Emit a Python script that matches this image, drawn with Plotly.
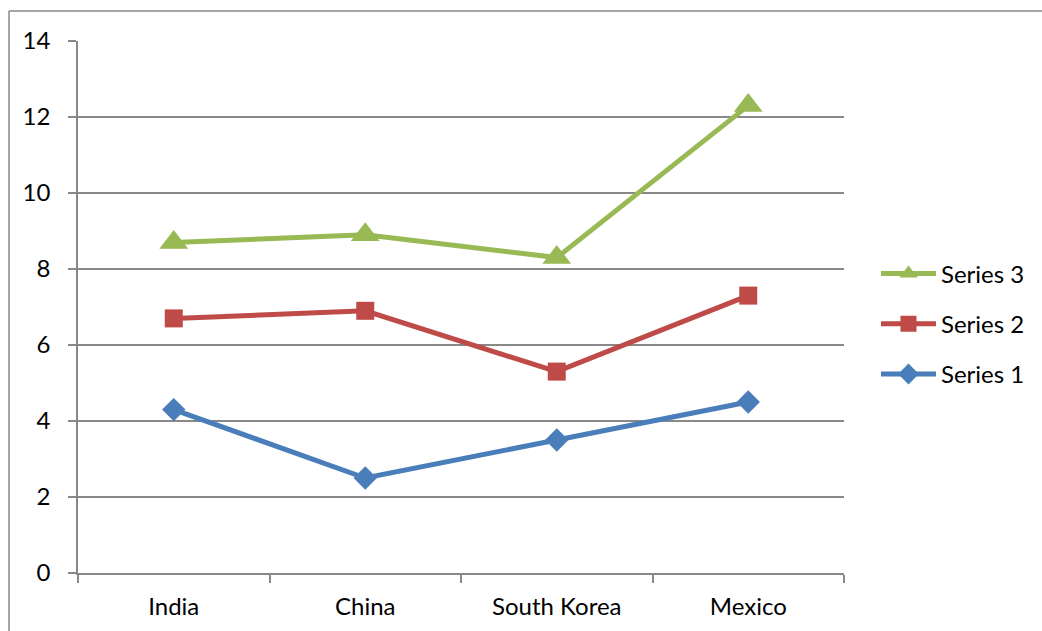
import plotly.graph_objects as go

categories = ["India", "China", "South Korea", "Mexico"]
series1 = [4.3, 2.5, 3.5, 4.5]
series2 = [2.4, 4.4, 1.8, 2.8]
series3 = [2.0, 2.0, 3.0, 5.0]
names = ["Series 1", "Series 2", "Series 3"]
colors = ["#4A7EBB", "#BE4B48", "#98B954"]
symbols = ["diamond", "square", "triangle-up"]
msizes = [18, 18, 25]

fig = go.Figure()
for i, vals in enumerate([series1, series2, series3]):
    fig.add_trace(go.Scatter(
        x=categories, y=vals, name=names[i], mode="lines+markers",
        stackgroup="s", fill="none", legendgroup=names[i], legendrank=3 - i,
        line=dict(color=colors[i], width=5),
        marker=dict(symbol=symbols[i], size=msizes[i], color=colors[i]),
    ))

L, R, T, B = 78, 198, 41, 58
W, H = 1042, 631
pw, ph = W - L - R, H - T - B
axcol = "#888888"
font = "Lato, 'Open Sans', sans-serif"

fig.update_layout(
    width=W, height=H,
    margin=dict(l=L, r=R, t=T, b=B, autoexpand=False),
    paper_bgcolor="white", plot_bgcolor="white",
    font=dict(family=font, size=24, color="#000000"),
    showlegend=True,
    legend=dict(
        x=1.0 + (876 - (L + pw)) / pw, y=0.5 + (573 - 324 - 266) / ph,
        xanchor="left", yanchor="middle",
        traceorder="grouped", tracegroupgap=16,
        itemwidth=55, font=dict(size=24),
        bgcolor="rgba(0,0,0,0)",
    ),
    xaxis=dict(
        type="category", range=[-0.5, 3.5], tickson="boundaries",
        ticks="outside", ticklen=8, tickcolor=axcol, tickwidth=1.5,
        showline=True, linecolor=axcol, linewidth=1.5,
        showgrid=False, ticklabelstandoff=11, automargin=False,
    ),
    yaxis=dict(
        range=[0, 14], dtick=2, ticks="outside", ticklen=8,
        tickcolor=axcol, tickwidth=1.5,
        showline=True, linecolor=axcol, linewidth=1.5,
        showgrid=True, gridcolor=axcol, gridwidth=1.5,
        zeroline=False, ticklabelstandoff=13, automargin=False,
    ),
    shapes=[
        dict(type="line", xref="paper", yref="paper",
             x0=(9 - L) / pw, x1=(9 - L) / pw, y0=(H - B - 11) / ph, y1=-(B + 5) / ph,
             line=dict(color=axcol, width=1.5)),
        dict(type="line", xref="paper", yref="paper",
             x0=(9 - L) / pw, x1=(W + 5 - L) / pw, y0=(H - B - 11) / ph, y1=(H - B - 11) / ph,
             line=dict(color=axcol, width=1.5)),
    ],
)

fig.write_html("out.html")
